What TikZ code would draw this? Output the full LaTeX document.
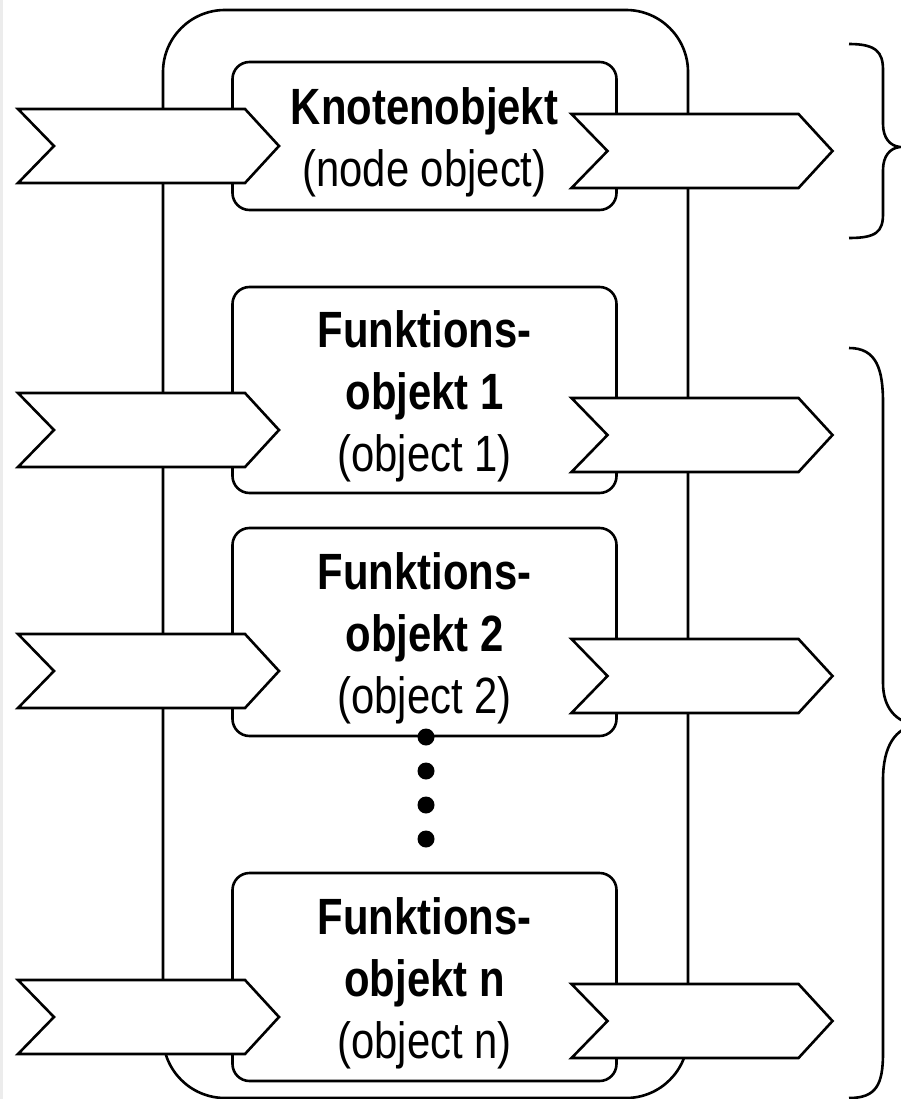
\documentclass[tikz,border=0pt]{standalone}
\usepackage{fontspec}
\setmainfont[FakeStretch=0.82]{Liberation Sans}
\begin{document}
\begin{tikzpicture}[x=1pt,y=-1pt,line width=2.6pt,
  outerbox/.style={draw,rounded corners=62pt,inner sep=0pt,minimum width=525pt,minimum height=1088pt},
  ibox/.style={draw,rounded corners=17pt,inner sep=0pt,minimum width=384pt},
  lbl/.style={align=center,inner sep=0pt,font=\fontsize{51}{62}\selectfont},
  dotn/.style={circle,fill,inner sep=0pt,minimum size=17pt},
  chev/.pic={\draw[fill=white] (-130.5,-37) -- (96.5,-37) -- (130.5,0) -- (96.5,37) -- (-130.5,37) -- (-94.5,0) -- cycle;}]
\useasboundingbox (0,0) rectangle (901,1099);
\fill[gray!15] (0,0) rectangle (2.5,1099);
% outer container
\node[outerbox] (outer) at (425.5,554) {};
% inner boxes
\node[ibox,minimum height=148pt] (k0) at (424.5,136) {};
\node[ibox,minimum height=206pt] (f1) at (424.5,390) {};
\node[ibox,minimum height=208pt] (f2) at (424.5,632) {};
\node[ibox,minimum height=208pt] (fn) at (424.5,977) {};
% chevrons (in / out)
\pic at (148.5,146) {chev};
\pic at (702,151) {chev};
\pic at (148.5,430) {chev};
\pic at (702,435) {chev};
\pic at (148.5,671) {chev};
\pic at (702,676) {chev};
\pic at (148.5,1017) {chev};
\pic at (702,1021) {chev};
% labels
\node[lbl,yshift=-6pt] (k0t) at (k0.center) {\textbf{Knotenobjekt}\\(node object)};
\node[lbl,yshift=-6pt] (f1t) at (f1.center) {\textbf{Funktions-}\\\textbf{objekt 1}\\(object 1)};
\node[lbl,yshift=-6pt] (f2t) at (f2.center) {\textbf{Funktions-}\\\textbf{objekt 2}\\(object 2)};
\node[lbl,yshift=-6pt] (fnt) at (fn.center) {\textbf{Funktions-}\\\textbf{objekt n}\\(object n)};
% dots
\node[dotn] (d1) at (426,737) {};
\node[dotn] (d2) at (426,771) {};
\node[dotn] (d3) at (426,805) {};
\node[dotn] (d4) at (426,839) {};
% braces
\draw (849,44) .. controls (876,44) and (883,52) .. (883,70) -- (883,124)
  .. controls (883,138) and (890,146) .. (900,147)
  .. controls (890,148) and (883,156) .. (883,170) -- (883,214)
  .. controls (883,232) and (876,238) .. (849,238);
\draw (849,348) .. controls (877,348) and (883,370) .. (883,403) -- (883,683)
  .. controls (883,708) and (896,722) .. (916,725)
  .. controls (896,728) and (883,745) .. (883,780) -- (883,1053)
  .. controls (883,1085) and (876,1098) .. (849,1098);
\end{tikzpicture}
\end{document}
